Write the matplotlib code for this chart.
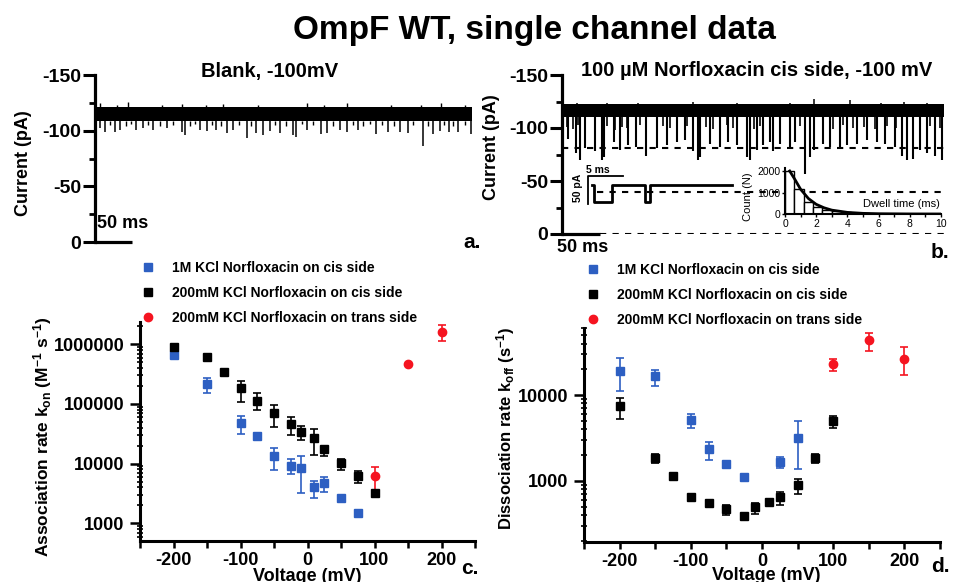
import matplotlib
matplotlib.use('Agg')
import matplotlib.pyplot as plt
import numpy as np
from matplotlib.lines import Line2D
from matplotlib.ticker import FixedLocator, FixedFormatter, NullFormatter

plt.rcParams['font.family'] = ['Liberation Sans', 'DejaVu Sans']
plt.rcParams['font.weight'] = 'bold'
plt.rcParams['axes.unicode_minus'] = False
plt.rcParams['mathtext.fontset'] = 'custom'
plt.rcParams['mathtext.rm'] = 'Liberation Sans:bold'
plt.rcParams['mathtext.bf'] = 'Liberation Sans:bold'
plt.rcParams['mathtext.it'] = 'Liberation Sans:bold'
plt.rcParams['mathtext.default'] = 'regular'

NARROW = ['Liberation Sans Narrow', 'Liberation Sans', 'DejaVu Sans']

# ---------------- data ----------------
# panel a: blank trace, -100 mV (current in pA, time in ms)
a_duration = 510
a_band = (-109, -121)
a_spike_t = [7, 13.5, 27, 34, 56, 65, 79, 97, 117, 121.5, 142, 151, 164, 178, 187, 205, 218, 227,
             236, 250, 268, 272, 286, 306, 313, 331, 340, 355, 380, 396, 412, 423, 443, 457, 466,
             479, 490, 508]
a_spike_v = [-102, -99, -99, -101, -101, -102, -101, -102, -99, -96, -101, -100, -101, -98, -101,
             -93, -98, -96, -100, -98, -96, -94, -101, -97, -98, -101, -99, -101, -97, -99, -99,
             -98, -86, -97, -100, -99, -99, -97]
a_small_t = [20, 42, 48, 72, 88, 105, 128, 135, 158, 170, 195, 211, 243, 258, 280, 295, 321,
             348, 362, 372, 388, 404, 430, 450, 472, 484, 500]
a_small_v = [-105, -104, -106, -105, -104, -105, -104, -106, -105, -104, -105, -104, -105, -104,
             -106, -105, -104, -105, -104, -106, -105, -104, -105, -104, -105, -104, -105]
a_up_t = [7, 30, 45, 90, 117, 150, 173, 220, 286, 310, 340, 400, 440, 468, 500]
a_up_v = [-125, -123, -126, -123, -124, -123, -124, -123, -125, -123, -125, -123, -123, -125, -123]

# panel b: 100 uM norfloxacin cis side, -100 mV
b_duration = 502
b_band = (-110, -123)
b_spike_t = [8, 19, 24, 30, 43, 52, 55, 68, 76, 87, 98, 111, 125, 138, 151, 162, 173, 179, 182,
             195, 208, 219, 230, 243, 247, 256, 265, 274, 278, 287, 300, 307, 320, 326, 331, 344,
             353, 366, 375, 388, 401, 414, 425, 438, 447, 454, 462, 471, 480, 491, 500]
b_spike_v = [-90, -76, -70, -81, -78, -70, -73, -87, -79, -84, -82, -74, -81, -84, -87, -89, -78,
             -70, -73, -85, -82, -87, -84, -73, -70, -79, -84, -87, -78, -85, -81, -87, -57, -73,
             -79, -85, -82, -81, -84, -85, -89, -87, -85, -82, -74, -70, -71, -79, -76, -74, -70]
b_small_t = [6, 15, 21.5, 30, 59, 70, 78.5, 85, 103, 111, 125, 133, 142, 151, 164, 190, 199,
             217, 225, 243, 252, 261, 274, 287, 300, 313, 331, 344, 357, 370, 383, 397, 412, 427,
             440, 454, 471, 484, 497]
b_small_v = [-101, -99, -103, -100, -102, -98, -101, -100, -103, -99, -101, -102, -100, -98,
             -102, -101, -99, -103, -100, -101, -99, -102, -100, -101, -98, -102, -100, -101,
             -99, -103, -100, -101, -99, -102, -100, -101, -99, -102, -100]
b_up_t = [0, 20, 59, 100, 173, 230, 300, 331, 379, 420, 450, 480]
b_up_v = [-125, -124, -124, -124, -125, -124, -124, -127, -126, -124, -125, -124]
b_levels = [-81, -40, 0]
b_level_start = [0, 46, 50]

# panel b inset trace (ms, pA)
ins_open = -115
ins_block = -85
ins_blocks = [(0.3, 2.8), (7.6, 8.3)]
ins_end = 20.0

# panel b inset histogram: dwell time (ms) vs count
hist_bin = 0.6
hist_counts = [2000, 1150, 570, 340, 200, 130, 80, 50, 30, 20, 12, 8, 5, 3]
fit_t = [0.3, 0.6, 1.0, 1.5, 2.0, 2.5, 3.0, 4.0, 5.0, 6.0, 8.0, 10.0]
fit_n = [2000, 1650, 1150, 720, 450, 290, 180, 75, 30, 12, 2, 0]

# panel c: association rate kon (M^-1 s^-1)
c_blue_v = [-200, -150, -100, -75, -50, -25, -10, 10, 25, 50, 75]
c_blue_k = [660000, 216000, 48600, 29100, 13500, 9260, 8580, 4030, 4810, 2630, 1480]
c_blue_lo = [660000, 155000, 31400, 29100, 7840, 6640, 3190, 2630, 3400, 2630, 1480]
c_blue_hi = [660000, 270000, 63000, 29100, 18500, 12000, 13600, 5130, 5920, 2630, 1480]

c_black_v = [-200, -150, -125, -100, -75, -50, -25, -10, 10, 25, 50, 75, 100]
c_black_k = [912000, 605000, 348000, 183000, 113000, 69800, 46200, 34400, 26600, 17400, 10200, 6300, 3270]
c_black_lo = [912000, 605000, 348000, 109000, 79400, 40700, 30300, 24900, 14000, 13600, 7840, 4700, 3270]
c_black_hi = [912000, 605000, 348000, 245000, 151000, 96200, 59900, 42300, 38000, 19300, 12000, 7540, 3270]

c_red_v = [100, 150, 200]
c_red_k = [6230, 473000, 1630000]
c_red_lo = [3320, 473000, 1150000]
c_red_hi = [8920, 473000, 2100000]

# panel d: dissociation rate koff (s^-1)
d_blue_v = [-200, -150, -100, -75, -50, -25, 25, 50]
d_blue_k = [19200, 16700, 5120, 2340, 1560, 1100, 1680, 3190]
d_blue_lo = [11100, 12800, 4100, 1750, 1560, 1100, 1400, 1380]
d_blue_hi = [27200, 19900, 6010, 2870, 1560, 1100, 1920, 4990]

d_black_v = [-200, -150, -125, -100, -75, -50, -25, -10, 10, 25, 50, 75, 100]
d_black_k = [7450, 1870, 1150, 656, 549, 472, 395, 494, 565, 645, 898, 1870, 4990]
d_black_lo = [5260, 1610, 1150, 656, 549, 403, 395, 413, 565, 526, 700, 1610, 4170]
d_black_hi = [9310, 2040, 1150, 656, 549, 526, 395, 550, 565, 752, 1050, 2040, 5700]

d_red_v = [100, 150, 200]
d_red_k = [22800, 43600, 26700]
d_red_lo = [19000, 32500, 17400]
d_red_hi = [26200, 53000, 36100]

series_labels = ['1M KCl Norfloxacin on cis side',
                 '200mM KCl Norfloxacin on cis side',
                 '200mM KCl Norfloxacin on trans side']
trace_yticks = [-150, -100, -50, 0]
trace_yticklabels = ['-150', '-100', '-50', '0']
volt_ticks = [-200, -100, 0, 100, 200]
volt_ticklabels = ['-200', '-100', '0', '100', '200']
c_yticks = [1000, 10000, 100000, 1000000]
c_yticklabels = ['1000', '10000', '100000', '1000000']
d_yticks = [1000, 10000]
d_yticklabels = ['1000', '10000']

BLUE = '#2d5fc2'
BLACK = '#000000'
RED = '#f51420'

# ---------------- layout helpers ----------------
W, H = 955, 582
fig = plt.figure(figsize=(W / 100, H / 100), dpi=100)


def rect(l, t, r, b):
    return [l / W, 1 - b / H, (r - l) / W, (b - t) / H]


def ftext(x, y, s, **kw):
    return fig.text(x / W, 1 - y / H, s, **kw)


ftext(534, 30, 'OmpF WT, single channel data', fontsize=24, ha='center', va='center')


def trace_axes(ax):
    for s in ['top', 'right', 'bottom']:
        ax.spines[s].set_visible(False)
    ax.spines['left'].set_linewidth(2.3)
    ax.set_yticks(trace_yticks)
    ax.set_yticklabels(trace_yticklabels)
    ax.set_yticks([-125, -75, -25], minor=True)
    ax.tick_params(axis='y', which='major', direction='out', length=9, width=2.2,
                   labelsize=14, pad=1)
    ax.tick_params(axis='y', which='minor', direction='out', length=4, width=2.0)
    ax.set_xticks([])
    ax.set_ylim(0, -150)


# ---------------- panel a ----------------
ax_a = fig.add_axes(rect(95, 75, 95 + 515 * 0.74, 242))
trace_axes(ax_a)
ax_a.set_xlim(0, 515)
ax_a.fill_between([0, a_duration], a_band[0], a_band[1], color='black', lw=0)
ax_a.vlines(a_spike_t, a_band[0], a_spike_v, color='black', lw=1.1)
ax_a.vlines(a_small_t, a_band[0], a_small_v, color='black', lw=1.0)
ax_a.vlines(a_up_t, a_band[1], a_up_v, color='black', lw=1.0)
ax_a.plot([0, 50], [0, 0], color='black', lw=2.3, solid_capstyle='butt', clip_on=False)
ftext(123, 223, '50 ms', fontsize=13, ha='center', va='center')
ftext(270, 72, 'Blank, -100mV', fontsize=14.5, ha='center', va='center')
ftext(24, 163, 'Current (pA)', fontsize=13, rotation=90, ha='center', va='center')
ftext(472, 242, 'a.', fontsize=15, ha='center', va='center')

# ---------------- panel b ----------------
ax_b = fig.add_axes(rect(562, 75, 562 + 505 * 0.76, 234))
trace_axes(ax_b)
ax_b.set_xlim(0, 505)
ax_b.fill_between([0, b_duration], b_band[0], b_band[1], color='black', lw=0)
ax_b.vlines(b_small_t, b_band[0], b_small_v, color='black', lw=1.2)
ax_b.vlines(b_spike_t, b_band[0], b_spike_v, color='black', lw=1.5)
ax_b.vlines(b_up_t, b_band[1], b_up_v, color='black', lw=1.1)
ax_b.hlines(b_levels, b_level_start, b_duration, colors='black', lw=1.5,
            linestyles=(0, (3, 3)))
ax_b.plot([0, 50], [0, 0], color='black', lw=2.3, solid_capstyle='butt', clip_on=False)
ftext(583, 248, '50 ms', fontsize=13, ha='center', va='center')
ftext(757, 70, '100 \u00b5M Norfloxacin cis side, -100 mV', fontsize=14.5, ha='center', va='center')
ftext(491, 147, 'Current (pA)', fontsize=13, rotation=90, ha='center', va='center')
ftext(940, 253, 'b.', fontsize=15, ha='center', va='center')

# inset trace
ax_it = fig.add_axes(rect(585, 168, 585 + 23 * 7, 212))
ax_it.set_xlim(-1, 22)
ax_it.set_ylim(-66.8, -145.4)
ax_it.axis('off')
st_t = [0]
st_v = [ins_open]
for (s, e) in ins_blocks:
    st_t += [s, s, e, e]
    st_v += [ins_open, ins_block, ins_block, ins_open]
st_t.append(ins_end)
st_v.append(ins_open)
ax_it.plot(st_t, st_v, color='black', lw=2.0)
ax_it.plot([-0.6, -0.6, 4.4], [-81, -131, -131], color='black', lw=1.3)
ftext(598, 170, '5 ms', fontsize=7.5, ha='center', va='center', family=NARROW)
ftext(578, 188, '50 pA', fontsize=7.5, ha='center', va='center', rotation=90, family=NARROW)

# inset histogram
ax_h = fig.add_axes(rect(785, 168, 941, 214))
ax_h.set_xlim(0, 10)
ax_h.set_ylim(0, 2140)
edges = np.arange(len(hist_counts)) * hist_bin
ax_h.bar(edges, hist_counts, width=hist_bin, align='edge', facecolor='white',
         edgecolor='black', lw=1.0)
ax_h.plot(fit_t, fit_n, color='black', lw=2.0)
for s in ['top', 'right']:
    ax_h.spines[s].set_visible(False)
for s in ['left', 'bottom']:
    ax_h.spines[s].set_linewidth(1.5)
ax_h.patch.set_alpha(0)
ax_h.set_xticks([0, 2, 4, 6, 8, 10])
ax_h.set_xticks([1, 3, 5, 7, 9], minor=True)
ax_h.set_yticks([0, 1000, 2000])
ax_h.tick_params(which='both', direction='out', length=2.5, width=1, labelsize=7.5, pad=1)
for lab in ax_h.get_xticklabels() + ax_h.get_yticklabels():
    lab.set_family(NARROW)
    lab.set_weight('normal')
ax_h.text(7.45, 480, 'Dwell time (ms)', fontsize=8, ha='center', va='center', family=NARROW,
          weight='normal')
ftext(748, 197, 'Count (N)', fontsize=8, rotation=90, ha='center', va='center', family=NARROW,
      weight='normal')


# ---------------- panels c, d ----------------
def rate_axes(ax, ylim, yticks, yticklabels):
    ax.set_xlim(-250, 250)
    ax.set_yscale('log')
    ax.set_ylim(*ylim)
    for s in ['top', 'right']:
        ax.spines[s].set_visible(False)
    for s in ['left', 'bottom']:
        ax.spines[s].set_linewidth(2.2)
    ax.xaxis.set_major_locator(FixedLocator(volt_ticks))
    ax.xaxis.set_major_formatter(FixedFormatter(volt_ticklabels))
    ax.xaxis.set_minor_locator(FixedLocator([-250, -150, -50, 50, 150, 250]))
    ax.yaxis.set_major_locator(FixedLocator(yticks))
    ax.yaxis.set_major_formatter(FixedFormatter(yticklabels))
    minors = [m * 10 ** e for e in range(1, 7) for m in range(2, 10)]
    ax.yaxis.set_minor_locator(FixedLocator(minors))
    ax.yaxis.set_minor_formatter(NullFormatter())
    ax.tick_params(axis='x', which='both', direction='out', length=5, width=1.8,
                   labelsize=13, pad=3)
    ax.tick_params(axis='y', which='major', direction='out', length=7, width=1.8,
                   labelsize=13, pad=4)
    ax.tick_params(axis='y', which='minor', direction='inout', length=5, width=1.2)


def eb(ax, v, k, lo, hi, color, marker, ms):
    k = np.array(k, float)
    yerr = [k - np.array(lo, float), np.array(hi, float) - k]
    ax.errorbar(v, k, yerr=yerr, fmt=marker, color=color, ms=ms, capsize=3.2,
                elinewidth=1.2, capthick=1.2, mec=color, mfc=color, clip_on=False)


def legend(ax, x_left, y_top):
    handles = [Line2D([], [], ls='none', marker='s', color=BLUE, ms=5.5),
               Line2D([], [], ls='none', marker='s', color=BLACK, ms=5.5),
               Line2D([], [], ls='none', marker='o', color=RED, ms=6)]
    ax.legend(handles, series_labels, loc='upper left',
              bbox_to_anchor=(x_left / W, 1 - y_top / H), bbox_transform=fig.transFigure,
              frameon=False, fontsize=10, handlelength=1.0, handletextpad=1.2,
              labelspacing=0.8, borderpad=0, borderaxespad=0)


ax_c = fig.add_axes(rect(140, 322, 475, 541))
rate_axes(ax_c, (506, 2.36e6), c_yticks, c_yticklabels)
eb(ax_c, c_blue_v, c_blue_k, c_blue_lo, c_blue_hi, BLUE, 's', 5.5)
eb(ax_c, c_black_v, c_black_k, c_black_lo, c_black_hi, BLACK, 's', 5.5)
eb(ax_c, c_red_v, c_red_k, c_red_lo, c_red_hi, RED, 'o', 6)
legend(ax_c, 141, 261)
ftext(43, 437, r'Association rate k$_{on}$ (M$^{-1}$ s$^{-1}$)', fontsize=12.5, rotation=90,
      ha='center', va='center')
ftext(307, 581, 'Voltage (mV)', fontsize=13, ha='center', va='baseline')
ftext(470, 568, 'c.', fontsize=15, ha='center', va='center')

ax_d = fig.add_axes(rect(584, 328, 940, 542))
rate_axes(ax_d, (194, 60700), d_yticks, d_yticklabels)
eb(ax_d, d_blue_v, d_blue_k, d_blue_lo, d_blue_hi, BLUE, 's', 5.5)
eb(ax_d, d_black_v, d_black_k, d_black_lo, d_black_hi, BLACK, 's', 5.5)
eb(ax_d, d_red_v, d_red_k, d_red_lo, d_red_hi, RED, 'o', 6)
legend(ax_d, 586, 263)
ftext(506, 428, r'Dissociation rate k$_{off}$ (s$^{-1}$)', fontsize=12, rotation=90,
      ha='center', va='center')
ftext(766, 580, 'Voltage (mV)', fontsize=13, ha='center', va='baseline')
ftext(940, 567, 'd.', fontsize=15, ha='center', va='center')

fig.savefig('out.png', dpi=100)
